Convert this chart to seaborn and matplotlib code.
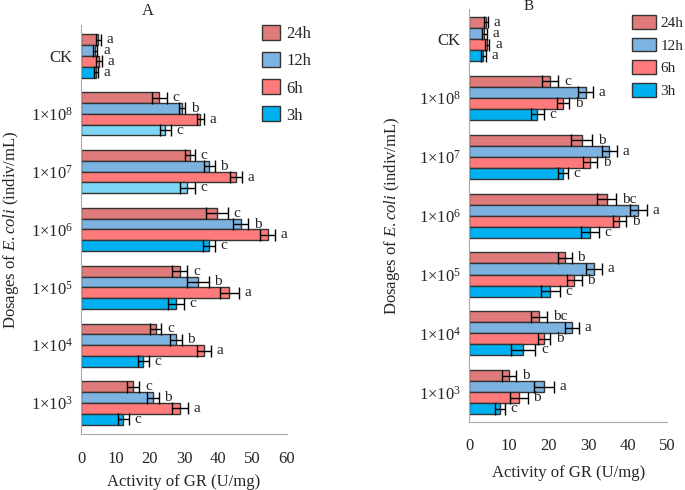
import pandas as pd
import seaborn as sns
import matplotlib.pyplot as plt

doses = ["CK", "1×10$^{8}$", "1×10$^{7}$", "1×10$^{6}$", "1×10$^{5}$", "1×10$^{4}$", "1×10$^{3}$"]
times = ["24h", "12h", "6h", "3h"]

# panel A
a_24h = [5.0, 22.8, 31.7, 39.5, 28.7, 21.7, 15.2]
a_12h = [4.2, 29.4, 37.3, 46.5, 34.0, 27.6, 20.9]
a_6h = [5.2, 34.7, 45.1, 54.4, 43.2, 35.9, 28.9]
a_3h = [4.4, 24.6, 30.9, 37.3, 27.6, 18.2, 12.3]
a_24h_err = [0.7, 2.2, 1.5, 3.2, 2.3, 1.7, 1.8]
a_12h_err = [0.6, 1.0, 1.6, 2.2, 3.2, 1.7, 1.8]
a_6h_err = [0.8, 1.0, 1.7, 2.2, 2.8, 2.0, 2.3]
a_3h_err = [0.6, 1.5, 2.2, 1.7, 2.4, 1.6, 1.6]
a_24h_sig = ["a", "c", "c", "c", "c", "c", "c"]
a_12h_sig = ["a", "b", "b", "b", "b", "b", "b"]
a_6h_sig = ["a", "a", "a", "a", "a", "a", "a"]
a_3h_sig = ["a", "c", "c", "c", "c", "c", "c"]

# panel B
b_24h = [4.2, 20.4, 28.4, 34.7, 24.2, 17.6, 10.1]
b_12h = [3.8, 29.4, 35.4, 42.7, 31.5, 25.9, 18.9]
b_6h = [4.5, 23.7, 30.5, 37.9, 26.5, 18.9, 12.6]
b_3h = [3.5, 17.2, 23.7, 30.5, 20.4, 13.6, 7.7]
b_24h_err = [0.6, 2.1, 2.7, 2.4, 1.7, 2.1, 1.8]
b_12h_err = [0.6, 1.9, 1.8, 2.2, 2.1, 1.8, 2.5]
b_6h_err = [0.6, 1.5, 1.8, 1.7, 1.9, 1.6, 2.2]
b_3h_err = [0.6, 1.6, 1.3, 2.3, 2.4, 3.1, 1.3]
b_24h_sig = ["a", "c", "b", "bc", "b", "bc", "b"]
b_12h_sig = ["a", "a", "a", "a", "a", "a", "a"]
b_6h_sig = ["a", "b", "b", "b", "b", "b", "b"]
b_3h_sig = ["a", "c", "c", "c", "c", "c", "c"]

colors = ["#E07B7B", "#7DB3E0", "#FF7B7B", "#00B0F0"]
light_cyan = "#7DD6F5"

sns.set_style("white")
plt.rcParams["font.family"] = ["Liberation Serif", "DejaVu Serif"]
plt.rcParams["mathtext.fontset"] = "custom"
plt.rcParams["mathtext.rm"] = "Liberation Serif"
plt.rcParams["mathtext.it"] = "Liberation Serif:italic"


def make_df(vals, errs, sigs):
    rows = []
    for t, v, e, s in zip(times, vals, errs, sigs):
        for d, vv, ee, ss in zip(doses, v, e, s):
            rows.append({"dose": d, "time": t, "value": vv, "err": ee, "sig": ss})
    return pd.DataFrame(rows)


dfA = make_df([a_24h, a_12h, a_6h, a_3h], [a_24h_err, a_12h_err, a_6h_err, a_3h_err],
              [a_24h_sig, a_12h_sig, a_6h_sig, a_3h_sig])
dfB = make_df([b_24h, b_12h, b_6h, b_3h], [b_24h_err, b_12h_err, b_6h_err, b_3h_err],
              [b_24h_sig, b_12h_sig, b_6h_sig, b_3h_sig])


def draw(ax, df, xmax, ylim):
    sns.barplot(data=df, y="dose", x="value", hue="time", order=doses, hue_order=times,
                palette=colors, orient="h", errorbar=None, width=0.75,
                edgecolor="#333333", linewidth=1, saturation=1, ax=ax)
    for i, t in enumerate(times):
        sub = df[df["time"] == t].set_index("dose").loc[doses]
        for bar, e, s in zip(ax.containers[i], sub["err"], sub["sig"]):
            yc = bar.get_y() + bar.get_height() / 2
            xv = bar.get_width()
            ax.errorbar(xv, yc, xerr=e, color="black", lw=1, capsize=4, capthick=1)
            ax.annotate(s, (xv + e, yc), xytext=(4, 0), textcoords="offset points",
                        ha="left", va="center", fontsize=11)
    ax.set_xlim(0, xmax)
    ax.set_ylim(ylim)
    ax.set_xticks(range(0, xmax + 1, 10))
    ax.tick_params(axis="x", direction="in", length=5, color="#999999", pad=12, labelsize=12)
    ax.tick_params(axis="y", length=0, pad=6, labelsize=12)
    ax.set_yticks([i - 0.5 for i in range(len(doses) + 1)], minor=True)
    ax.tick_params(axis="y", which="minor", direction="in", length=5, color="#999999")
    for sp in ["top", "right"]:
        ax.spines[sp].set_visible(False)
    for sp in ["left", "bottom"]:
        ax.spines[sp].set_color("#aaaaaa")
    ax.set_xlabel("Activity of GR (U/mg)", fontsize=12)
    ax.set_ylabel("Dosages of $\\mathit{E.coli}$ (indiv/mL)", fontsize=12)
    ax.get_legend().remove()


fig = plt.figure(figsize=(6.85, 4.9), dpi=100)
axA = fig.add_axes([81 / 685, 1 - 434 / 490, 206 / 685, 409 / 490])
axB = fig.add_axes([469.3 / 685, 1 - 421.7 / 490, 198 / 685, 412.7 / 490])

draw(axA, dfA, 60, (6.535, -0.535))
draw(axB, dfB, 50, (6.477, -0.51))

# the two lighter 3h bars in panel A
axA.containers[3][1].set_facecolor(light_cyan)
axA.containers[3][2].set_facecolor(light_cyan)

axA.yaxis.labelpad = 7
axB.yaxis.labelpad = 12
axA.xaxis.labelpad = 5
axB.xaxis.labelpad = 8

axA.text(0.325, 1 + 10 / 409, "A", transform=axA.transAxes, ha="center", va="baseline", fontsize=12)
axB.text(0.30, 1 - 1 / 412.7, "B", transform=axB.transAxes, ha="center", va="baseline", fontsize=11)

hA = [plt.Rectangle((0, 0), 1, 1, fc=c, ec="#333333", lw=1) for c in colors]
fig.legend(hA, times, loc="upper left", bbox_to_anchor=(262 / 685, 1 - 25 / 490),
           frameon=False, fontsize=12, handlelength=1.05, handleheight=1.0,
           labelspacing=0.6, handletextpad=0.4, borderpad=0, borderaxespad=0)
fig.legend(hA, times, loc="upper left", bbox_to_anchor=(632 / 685, 1 - 15 / 490),
           frameon=False, fontsize=11, handlelength=1.6, handleheight=1.0,
           labelspacing=0.5, handletextpad=0.25, borderpad=0, borderaxespad=0)

fig.savefig("out.png", dpi=100)
